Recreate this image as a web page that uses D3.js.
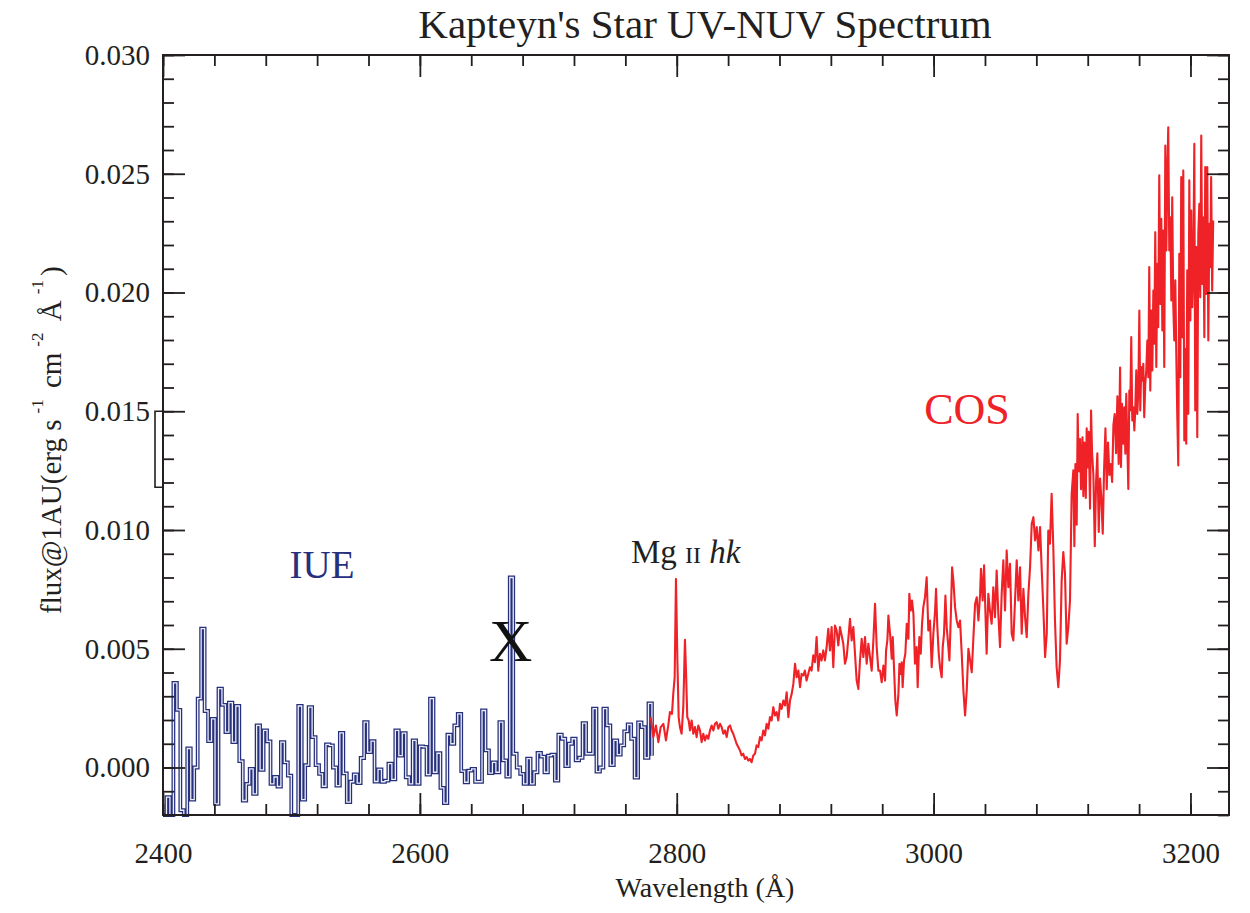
<!DOCTYPE html>
<html>
<head>
<meta charset="utf-8">
<script src="https://cdn.jsdelivr.net/npm/d3@7"></script>
<style>
  body { margin: 0; background: #fff; }
  text { font-family: "Liberation Serif", "Times New Roman", serif; }
</style>
</head>
<body>
<svg id="chart" width="1250" height="913"></svg>
<script>
// ---- axis ticks ----
const xMajorTicks = [2400, 2600, 2800, 3000, 3200];
const xMinorTicks = d3.range(2400, 3231, 40);
const yMajorTicks = [0.000, 0.005, 0.010, 0.015, 0.020, 0.025, 0.030];
const yMinorTicks = d3.range(-2, 31, 1).map(v => v / 1000);

// ---- IUE low-dispersion spectrum: flux per bin (units of 1e-3), uniform bins ----
const iueStart = 2400;     // first bin edge (Å)
const iueStep = 2.70;      // bin width (Å)
const iueFlux = [
  -2.5, -1.25, -2.5, 3.56, 2.43, -1.8, -2.1, 0.8, -1.35, 0.0, 2.9, 5.85, 2.38, 1.11, 2.05, -1.53,
  3.32, 2.64, 1.49, 2.73, 1.07, 2.59, 0.27, -1.39, -0.69, -0.06, -1.11,
  1.77, -0.1, 1.56, 1.1, -0.69, -0.4, -0.8,
  1.07, 0.22, -0.34, -2.5, -2.5, 2.59, -1.35, 0.1, 2.54, 1.28, 0.1, -0.27, -0.79, 0.97, 0.93, 0.0,
  -0.76, 1.46, -0.25, -1.46, -0.6, -0.29, -0.66, 0.4, 1.91, 0.65, 1.11, -0.59, -0.08, -0.6, -0.55,
  0.16, -0.5, 1.56, 0.5, 1.45,
  -0.41, -0.69, 1.14, -0.69, 0.89, 0.87, -0.3, 2.9, -0.2, 0.6, -0.86, -1.5, 1.38, 1.0, 1.77, 2.26,
  -0.15, -0.62, -0.13, -0.06, -0.6, -0.6, 2.4, 0.72, -0.24, 0.22, -0.2, 1.91, 0.3, -0.38, 8.0, 0.58,
  0.0, -0.27,
  -0.69, 0.37, -0.69, -0.2, 0.62, 0.46, -0.2, 0.5, 0.54, -0.55, 1.38, 1.21, 0.06, 1.0, 1.21, 0.3,
  0.41, 1.87, 0.58, 0.58, 2.48, -0.17, 0.0, 2.48, 1.77, 0.1, 1.14, 0.54, 0.93, 1.52, 1.81, 1.21,
  -0.43, 1.9, 1.7, 0.41, 2.7, 0.5
];

// ---- COS spectrum: [wavelength (Å), flux (units of 1e-3)] ----
const cosSpectrum = [
  [2779.7,2.12],[2781.8,1.28],[2783.8,1.77],[2785.7,1.07],[2787.5,1.70],[2789.6,1.84],[2791.6,1.14],
  [2793.4,1.77],[2794.7,2.33],[2796.3,2.26],[2797.3,3.10],[2798.4,3.80],[2799.4,7.94],[2800.5,4.51],
  [2801.5,2.12],[2802.5,1.70],[2803.8,1.42],[2805.1,2.54],[2806.4,5.38],[2807.2,4.08],[2808.2,2.12],
  [2809.3,1.98],[2810.3,1.56],[2811.6,1.98],[2812.9,1.42],[2814.2,1.70],[2815.5,1.28],[2816.8,1.77],
  [2818.1,1.56],[2819.4,1.07],[2820.7,1.42],[2822.0,1.14],[2823.3,1.35],[2824.6,1.21],[2825.9,1.56],
  [2827.2,1.77],[2828.5,1.56],[2829.8,1.84],[2831.1,1.91],[2832.4,1.63],[2833.7,1.84],[2835.0,1.70],
  [2836.3,1.42],[2837.6,1.56],[2838.9,1.28],[2840.2,1.70],[2841.5,1.77],[2842.7,1.56],[2844.0,1.42],
  [2845.3,1.21],[2846.6,1.00],[2847.9,0.86],[2849.2,0.72],[2850.5,0.51],[2851.8,0.58],[2853.1,0.36],
  [2854.4,0.44],[2855.7,0.29],[2857.0,0.36],[2858.3,0.22],[2859.6,0.51],[2860.9,0.58],[2862.2,0.93],
  [2863.5,0.86],[2864.8,1.28],[2866.1,1.14],[2867.4,1.56],[2868.7,1.35],[2870.0,1.84],[2871.3,1.63],
  [2872.6,2.12],[2873.9,1.98],[2875.2,2.54],[2876.5,2.19],[2877.8,2.33],[2879.1,1.98],[2880.4,2.68],
  [2881.7,2.47],[2883.0,2.82],[2884.3,2.61],[2885.6,3.17],[2886.9,2.12],[2888.2,2.82],[2889.5,3.10],
  [2890.8,3.52],[2892.1,4.37],[2893.4,3.80],[2894.7,4.08],[2896.0,3.38],[2897.2,3.94],[2898.5,3.87],
  [2899.8,4.08],[2901.1,3.66],[2902.4,3.94],[2903.7,4.22],[2905.0,4.08],[2906.3,4.72],[2907.6,4.43],
  [2908.9,5.49],[2910.2,4.08],[2911.5,4.79],[2912.8,4.51],[2914.1,4.93],[2915.4,4.51],[2916.7,5.07],
  [2918.0,5.84],[2919.3,4.93],[2920.6,5.91],[2921.9,4.22],[2923.2,5.98],[2924.5,5.77],[2925.8,5.14],
  [2927.1,5.91],[2928.4,5.56],[2929.7,5.21],[2931.0,4.37],[2932.3,4.65],[2933.6,5.42],[2934.9,6.26],
  [2936.2,5.35],[2937.5,5.91],[2938.8,4.79],[2940.1,3.66],[2941.4,3.31],[2942.7,4.51],[2944.0,5.42],
  [2945.3,4.65],[2946.6,5.49],[2947.9,4.37],[2949.2,5.21],[2950.5,4.65],[2951.8,4.08],[2953.1,5.35],
  [2954.4,6.89],[2955.7,5.07],[2957.0,4.08],
  [2958.3,4.08],[2959.6,3.59],[2960.9,4.29],[2962.2,3.66],[2963.0,4.93],[2964.0,5.35],[2964.8,6.40],
  [2966.1,5.63],[2967.4,4.58],[2968.2,5.49],[2969.2,4.15],[2970.2,2.82],[2971.3,2.19],[2972.6,3.10],
  [2973.4,4.37],[2974.4,3.94],[2975.2,4.43],[2975.9,3.38],[2977.0,4.51],[2978.0,4.79],[2979.1,6.05],
  [2980.4,5.42],[2981.1,7.31],[2982.2,6.61],[2983.2,7.03],[2984.3,6.47],[2985.5,4.37],[2986.8,5.07],
  [2987.6,3.38],[2988.9,5.49],[2990.0,4.79],[2991.0,6.05],[2992.0,6.75],[2993.3,7.17],[2994.6,8.01],
  [2995.9,5.77],[2997.2,6.19],[2998.5,4.22],[2999.8,5.63],[3001.1,6.54],[3001.9,7.52],[3002.9,5.91],
  [3004.0,4.79],[3005.0,4.22],[3006.3,3.80],[3007.1,5.07],[3008.1,5.63],[3009.2,7.24],[3010.2,5.91],
  [3011.5,5.07],[3012.3,4.51],[3013.3,6.19],[3014.4,8.43],[3015.4,7.87],[3016.7,6.75],[3018.0,6.19],
  [3019.3,5.91],[3020.6,6.19],[3021.9,4.79],[3023.2,3.24],[3024.5,2.19],[3025.8,3.24],[3027.1,5.00],
  [3028.4,4.51],[3029.7,4.01],[3031.0,5.49],[3032.3,6.89],[3033.6,7.17],[3034.9,6.19],[3036.2,7.31],
  [3036.9,8.37],[3038.2,7.03],[3039.3,8.51],[3040.3,6.61],[3041.3,4.79],[3042.6,7.31],[3043.9,6.61],
  [3045.2,6.05],[3046.5,7.59],[3047.8,6.33],[3049.1,8.29],[3050.4,6.47],[3051.7,5.07],[3053.0,7.31],
  [3054.3,8.72],[3055.6,6.61],[3056.9,9.14],[3058.2,7.59],[3059.5,8.58],[3060.8,5.63],[3062.1,5.35],
  [3063.4,7.03],[3064.7,8.72],[3066.0,7.03],[3067.3,8.43],[3068.6,5.63],[3069.9,7.52],[3071.2,6.33],
  [3072.5,5.49],[3073.8,7.31],[3075.1,8.43],[3076.4,10.26],[3077.7,10.54],[3079.0,9.56],[3080.3,10.12],
  [3081.6,9.14],[3082.9,10.12],[3084.2,8.29],[3085.5,6.61],[3086.8,4.65],[3088.1,5.63],[3089.3,9.98],
  [3090.6,9.42],[3091.9,11.52],[3093.2,9.28],[3094.5,6.19],[3095.8,4.22],[3097.1,3.38],[3098.4,4.51],
  [3099.7,7.87],[3101.0,9.07],[3102.3,8.16],[3103.6,5.21],[3104.9,5.91],[3106.2,7.03],[3107.5,11.52],
  [3108.8,12.51],
  [3109.6,9.32],[3110.4,12.78],[3111.4,10.22],[3112.2,14.88],[3113.0,12.47],[3114.0,13.83],[3114.8,11.72],
  [3115.9,13.90],[3116.6,11.42],[3117.4,13.68],[3118.5,11.35],[3119.2,14.28],[3120.0,12.63],[3120.8,14.13],
  [3121.8,10.90],[3122.6,15.03],[3123.4,13.23],[3124.4,12.32],[3125.5,9.32],[3126.5,12.02],[3127.5,13.23],
  [3128.6,9.92],[3129.6,12.17],[3130.6,11.35],[3131.7,9.84],[3132.7,12.47],[3133.8,14.28],[3134.8,11.72],
  [3135.8,13.68],[3136.9,12.32],[3137.9,12.78],[3139.0,12.02],[3140.0,14.43],[3141.0,14.88],[3142.1,13.23],
  [3143.1,15.63],[3144.1,12.78],[3145.2,16.84],
  [3145.9,12.65],[3146.7,15.31],[3147.7,13.63],[3148.5,15.17],[3149.3,13.21],[3150.0,15.73],[3150.8,13.77],
  [3151.6,11.73],[3152.4,15.87],[3153.1,15.03],[3153.9,18.12],[3154.7,14.61],[3155.5,15.17],[3156.3,14.19],
  [3157.0,15.03],[3157.8,16.72],[3158.6,14.89],[3159.4,15.87],[3160.2,19.24],[3160.9,15.03],[3161.7,16.86],
  [3162.5,16.29],[3163.3,17.00],[3164.0,14.75],[3164.8,16.15],[3165.6,16.72],[3166.4,17.98],[3167.2,16.43],
  [3167.9,21.07],[3168.7,15.87],[3169.5,19.24],[3170.3,16.72],[3171.1,20.08],[3171.8,17.84],[3172.6,22.54],
  [3173.4,16.86],[3174.2,21.21],[3174.9,18.54],[3175.7,24.93],[3176.5,19.52],[3177.3,23.10],[3178.1,18.40],
  [3178.8,22.61],[3179.6,16.86],[3180.4,26.19],[3181.2,21.77],[3181.9,24.86],[3182.7,26.96],[3183.5,21.77],
  [3184.3,23.17],[3185.1,19.66],[3185.8,24.01],[3186.6,19.52],[3187.4,17.98],[3188.2,20.51],[3189.0,17.28],
  [3189.7,14.89],[3190.5,12.72],[3191.3,21.63],[3192.1,16.43],[3192.8,24.86],[3193.6,18.12],[3194.4,25.14],
  [3195.2,13.77],[3196.0,17.63],[3196.7,13.63],[3197.5,20.93],[3198.3,14.89],[3199.1,24.72],[3199.9,18.82],
  [3200.6,23.45],[3201.4,19.38],[3202.2,20.93],[3203.0,26.26],[3203.7,15.03],[3204.5,21.91],[3205.3,13.91],
  [3206.1,22.47],[3206.9,23.73],[3207.6,19.80],[3208.4,26.61],[3209.2,20.36],[3210.0,23.17],[3210.8,18.12],
  [3211.5,25.28],[3212.3,19.94],[3213.1,25.28],[3213.9,17.98],[3214.7,22.89],[3215.4,21.07],[3216.1,24.86],
  [3216.9,20.08],[3217.7,23.03]
];

// ---- layout ----
const svg = d3.select("#chart");
const W = 1250, H = 913;
const plot = { left: 163, right: 1229, top: 55, bottom: 815 };
const ink = "#231f20";
const navy = "#27307c";
const red = "#ee2227";

svg.append("rect").attr("width", W).attr("height", H).attr("fill", "#fff");

const x = d3.scaleLinear().domain([2400, 3230]).range([plot.left, plot.right]);
const y = d3.scaleLinear().domain([-0.002, 0.030]).range([plot.bottom, plot.top]).clamp(true);

// ---- IUE histogram (hollow stroke) ----
const iuePoints = iueFlux.map((v, i) => [iueStart + i * iueStep, v * 1e-3]);
const stepLine = d3.line().x(d => x(d[0])).y(d => y(d[1])).curve(d3.curveStepAfter);
const iueG = svg.append("g");
iueG.append("path").datum(iuePoints).attr("d", stepLine)
  .attr("fill", "none").attr("stroke", navy).attr("stroke-width", 3.8).attr("stroke-linejoin", "miter");
iueG.append("path").datum(iuePoints).attr("d", stepLine)
  .attr("fill", "none").attr("stroke", "#eceef7").attr("stroke-width", 1.3).attr("stroke-linejoin", "miter");

// ---- COS spectrum ----
const cosLine = d3.line().x(d => x(d[0])).y(d => y(d[1] * 1e-3));
svg.append("path").datum(cosSpectrum).attr("d", cosLine)
  .attr("fill", "none").attr("stroke", red).attr("stroke-width", 2.1).attr("stroke-linejoin", "round");

// ---- axes: inward ticks on all four sides ----
const tickStyle = g => {
  g.select(".domain").remove();
  g.selectAll(".tick line").attr("stroke", ink).attr("stroke-width", 1.8);
  g.selectAll(".tick text").attr("fill", ink)
    .style("font-family", '"Liberation Serif", "Times New Roman", serif').style("font-size", "29px");
};
const axes = [
  [d3.axisBottom(x), `translate(0,${plot.bottom})`, xMajorTicks, xMinorTicks, true, false],
  [d3.axisTop(x), `translate(0,${plot.top})`, xMajorTicks, xMinorTicks, false, false],
  [d3.axisLeft(y), `translate(${plot.left},0)`, yMajorTicks, yMinorTicks, true, true],
  [d3.axisRight(y), `translate(${plot.right},0)`, yMajorTicks, yMinorTicks, false, true]
];
axes.forEach(([ax, tr, major, minor, labelled, isY]) => {
  svg.append("g").attr("transform", tr)
    .call(ax.tickValues(minor).tickSize(-11).tickSizeOuter(0).tickFormat(""))
    .call(tickStyle);
  svg.append("g").attr("transform", tr)
    .call(ax.tickValues(major).tickSize(-22).tickSizeOuter(0)
      .tickPadding(isY ? 13 : 27)
      .tickFormat(labelled ? (isY ? d3.format(".3f") : d3.format("d")) : ""))
    .call(tickStyle);
});

// frame
svg.append("rect")
  .attr("x", plot.left).attr("y", plot.top)
  .attr("width", plot.right - plot.left).attr("height", plot.bottom - plot.top)
  .attr("fill", "none").attr("stroke", ink).attr("stroke-width", 2);

// small bracket on the left axis
svg.append("path")
  .attr("d", `M${plot.left},${y(0.015)}H${plot.left - 8}V${y(0.0118)}H${plot.left}`)
  .attr("fill", "none").attr("stroke", ink).attr("stroke-width", 1.6);

// ---- titles ----
svg.append("text").attr("x", 705).attr("y", 38).attr("text-anchor", "middle")
  .attr("fill", ink).style("font-size", "41px").text("Kapteyn's Star UV-NUV Spectrum");

svg.append("text").attr("x", 705).attr("y", 897).attr("text-anchor", "middle")
  .attr("fill", ink).style("font-size", "28px").text("Wavelength (Å)");

const yl = svg.append("text").attr("transform", "translate(61,614) rotate(-90)")
  .attr("fill", ink).style("font-size", "29px");
yl.append("tspan").text("flux@1AU(erg s");
yl.append("tspan").attr("dx", 6).attr("dy", -18).style("font-size", "17px").text("-1");
yl.append("tspan").attr("dx", 4).attr("dy", 18).text(" cm");
yl.append("tspan").attr("dx", 6).attr("dy", -18).style("font-size", "17px").text("-2");
yl.append("tspan").attr("dx", 4).attr("dy", 18).text(" Å");
yl.append("tspan").attr("dx", 6).attr("dy", -18).style("font-size", "17px").text("-1");
yl.append("tspan").attr("dx", 4).attr("dy", 18).text(")");

// ---- annotations ----
svg.append("text").attr("x", 322).attr("y", 578).attr("text-anchor", "middle")
  .attr("fill", navy).style("font-size", "39px").text("IUE");

svg.append("text").attr("x", 967).attr("y", 424).attr("text-anchor", "middle")
  .attr("fill", red).style("font-size", "44px").text("COS");

svg.append("text").attr("x", x(2670) + 1).attr("y", 661).attr("text-anchor", "middle")
  .attr("fill", "#111").style("font-size", "60px").text("X");

const mg = svg.append("text").attr("x", 631).attr("y", 563).attr("fill", ink).style("font-size", "33px");
mg.append("tspan").text("Mg ");
mg.append("tspan").style("font-size", "24px").text("II");
mg.append("tspan").style("font-style", "italic").text(" hk");
</script>
</body>
</html>
